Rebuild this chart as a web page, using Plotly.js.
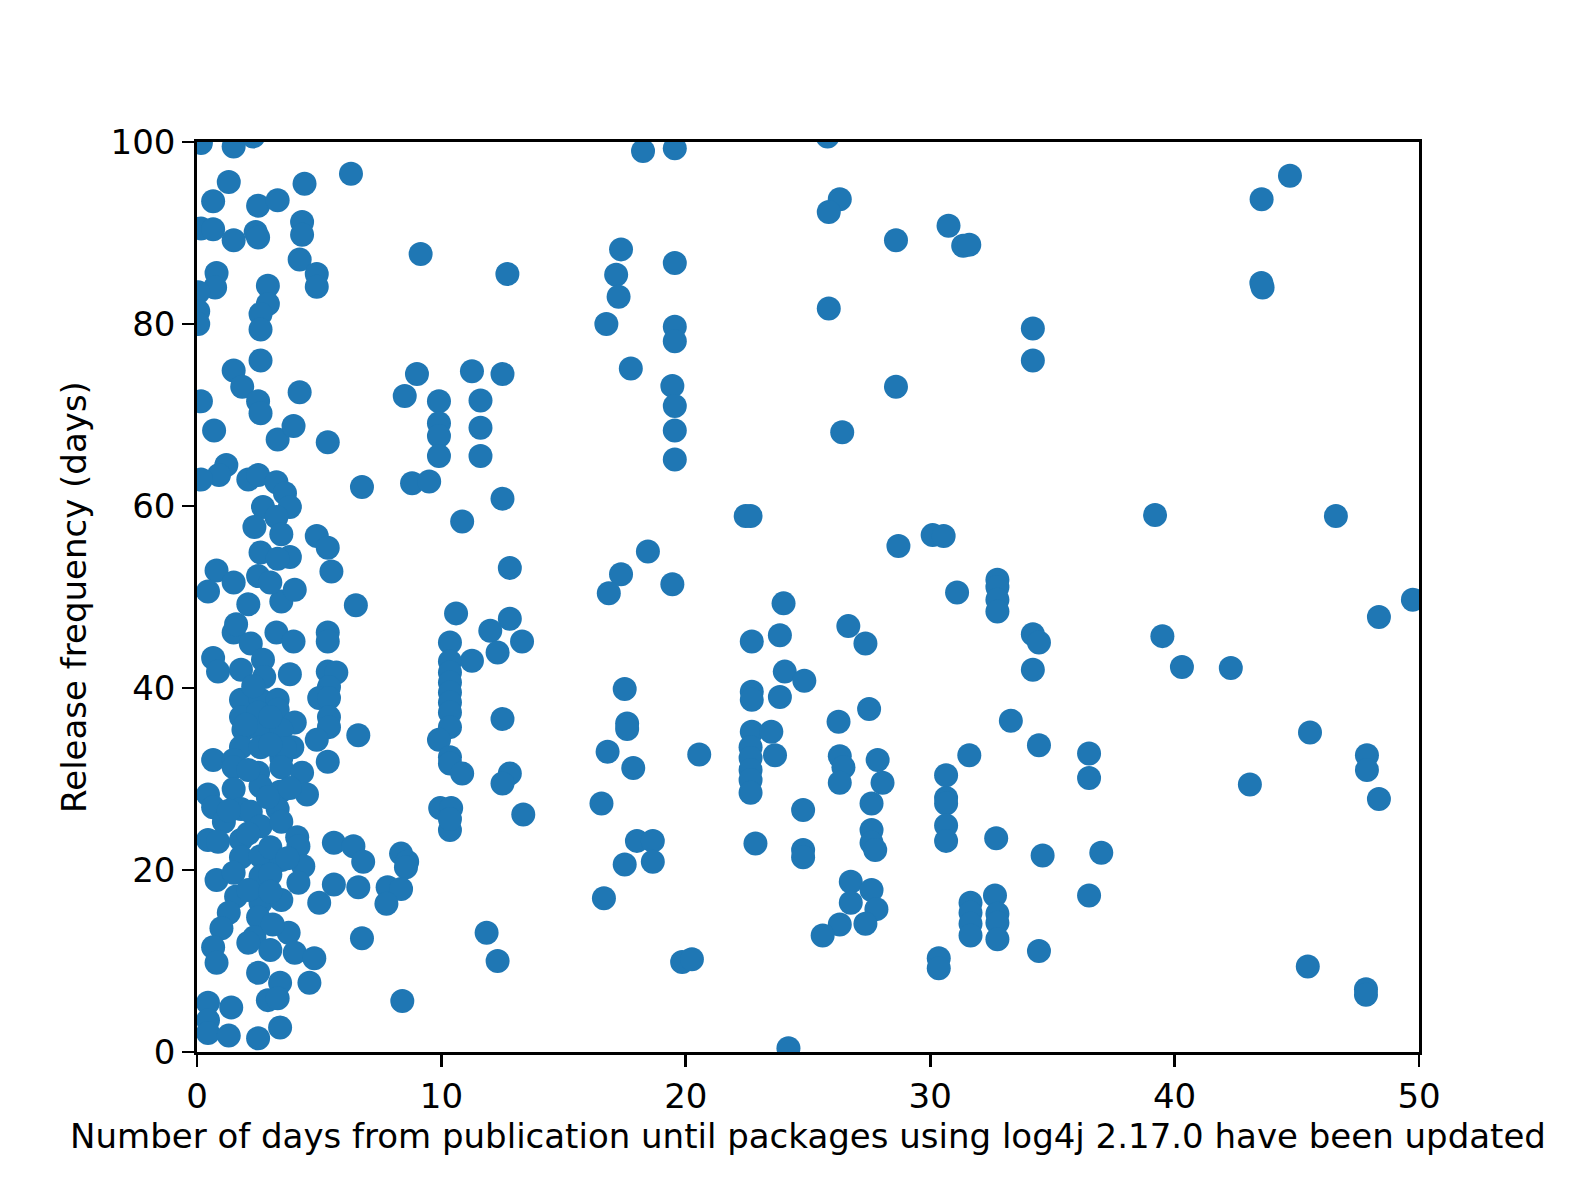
<!DOCTYPE html>
<html>
<head>
<meta charset="utf-8">
<script src="https://cdn.plot.ly/plotly-3.0.1.min.js"></script>
<style>
  html, body { margin: 0; padding: 0; background: #ffffff; }
  #chart { width: 1577px; height: 1183px; }
</style>
</head>
<body>
<div id="chart"></div>
<script>
// Number of days from publication until packages using log4j 2.17.0 have been updated
const daysToUpdate = [
  0.16, 1.5, 2.3, 6.3, 1.3, 4.4, 0.66, 2.5, 3.3, 0.16, 0.66, 1.5, 2.4, 2.5, 4.3, 4.3, 4.2, 4.9, 4.9, 0.8,
  0.74, 0.05, 0.05, 0.05, 2.9, 2.9, 2.6, 2.6, 2.6, 1.5, 1.85, 2.5, 2.6, 4.2, 0.16, 0.7, 3.3, 3.95, 5.35,
  1.2, 0.9, 0.16, 2.1, 2.5, 3.25, 3.6, 3.8, 2.7, 3.25, 2.35, 3.45, 6.75, 4.9, 5.35, 5.5, 2.6, 3.8, 3.3,
  0.8, 1.5, 2.5, 0.45, 2.1, 3.45, 4.0, 3.0, 6.5, 1.5, 1.6, 2.2, 3.25, 3.95, 5.35, 5.35, 0.66, 0.86, 1.8,
  2.7, 2.75, 3.8, 5.35, 5.7, 5.4, 5.0, 5.4, 1.8, 2.6, 3.3, 1.8, 3.3, 2.5, 4.0, 5.4, 5.4, 1.9, 2.6, 3.45,
  4.9, 6.6, 1.8, 2.6, 3.9, 0.66, 1.5, 3.45, 5.35,
  3.6, 1.5, 2.5, 3.45, 4.3, 0.45, 4.5, 1.5, 2.6, 3.4, 0.66, 1.8, 3.3, 2.2, 1.1, 2.6, 3.45, 0.45, 0.86,
  1.8, 4.1, 4.15, 5.6, 6.4, 6.8, 1.8, 2.6, 3.45, 4.35, 0.8, 1.5, 2.6, 4.15, 5.6, 6.6, 1.6, 2.6, 3.45,
  5.0, 1.3, 2.5, 1.0, 2.35, 3.75, 6.75, 0.66, 3.0, 4.0, 4.8, 0.8, 2.5, 3.4, 4.6, 2.9, 3.3, 0.45, 1.4,
  0.45, 0.45, 1.3, 2.5, 3.4,
  2.1, 3.0, 2.1, 3.0, 3.0, 2.1, 3.1, 2.1, 3.0, 3.7, 2.9, 1.3, 3.8, 2.0, 3.0, 2.3,
  9.0, 8.5, 11.25, 12.5, 9.9, 11.6, 9.9, 9.9, 11.6, 9.9, 11.6, 8.8, 9.5, 12.5, 10.85, 12.8, 10.6, 12.8,
  12.0, 13.3, 10.35, 12.3, 11.25, 10.35, 10.35, 10.35, 10.35, 10.35, 10.35, 10.35, 9.9, 10.35, 10.35,
  10.85, 12.5, 12.8, 12.5, 13.35, 9.95, 10.4, 10.35,
  10.35, 8.35, 8.6, 8.55, 7.8, 8.35, 7.75, 11.85, 12.3, 8.4, 9.15, 12.7,
  18.25, 19.55, 17.35, 19.55, 17.15, 17.25, 16.75, 19.55, 19.55, 17.75, 19.45, 19.55, 19.55, 19.55,
  18.45, 17.35, 16.85, 19.45,
  17.5, 17.6, 17.6, 16.8, 17.85, 20.55, 16.55, 18.0, 18.65, 17.5, 18.65, 16.65, 19.85, 20.25,
  22.45, 22.65, 28.7, 24.0, 26.65, 27.35, 22.7, 23.85, 24.05, 24.85, 22.7, 22.7, 23.85, 26.25, 27.5,
  22.7, 23.5, 23.65, 22.65, 22.65, 22.65, 22.65, 22.65, 26.3, 26.45, 26.3, 27.85, 28.05, 27.6, 27.6,
  27.6, 27.75, 24.8, 22.85, 24.8, 24.8, 26.75, 27.6, 26.75, 27.8, 27.35, 26.3, 25.6, 24.2,
  30.1, 30.55, 31.1, 32.75, 32.75, 32.75, 32.75, 34.2, 34.45, 34.2, 33.3, 34.45, 36.5, 36.5, 31.6,
  30.65, 30.65, 30.65, 30.65, 30.65, 32.7, 34.6, 37.0, 36.5, 31.65, 31.65, 31.65, 31.65, 32.65, 32.75,
  32.75, 32.75, 34.45, 30.35, 30.35,
  25.8, 26.3, 25.85, 28.6, 30.75, 31.35, 31.6, 25.85, 34.2, 34.2, 28.6, 26.4,
  44.72, 43.56, 43.55, 43.6, 39.2, 46.6, 49.75, 48.36, 39.5, 40.3, 42.3, 45.54, 47.87, 47.87, 48.36,
  43.08, 45.45, 47.83, 47.83
];

// Release frequency (days)
const releaseFrequency = [
  99.9, 99.5, 100.6, 96.5, 95.6, 95.4, 93.5, 93.0, 93.6, 90.5, 90.4, 89.2, 90.1, 89.5, 91.2, 89.8, 87.1, 85.5, 84.1, 85.6,
  84.0, 83.5, 81.4, 80.0, 84.2, 82.2, 81.1, 79.4, 76.0, 74.9, 73.1, 71.5, 70.2, 72.5, 71.5, 68.3, 67.3, 68.8, 67.0,
  64.5, 63.4, 62.9, 62.9, 63.4, 62.6, 61.4, 59.9, 59.9, 58.8, 57.7, 56.9, 62.1, 56.7, 55.4, 52.8, 54.9, 54.4, 54.2,
  52.9, 51.6, 52.3, 50.6, 49.2, 49.5, 50.8, 51.6, 49.1, 46.1, 47.0, 44.9, 46.1, 45.1, 46.1, 45.1, 43.3, 41.8, 42.0,
  43.1, 41.2, 41.5, 41.8, 41.7, 40.1, 38.9, 38.9, 38.7, 38.7, 38.7, 36.8, 37.6, 37.3, 36.2, 36.8, 35.7, 35.4, 35.4, 35.4,
  34.3, 34.8, 33.5, 33.5, 33.5, 32.1, 32.1, 32.3, 31.9,
  33.4, 31.3, 30.7, 31.3, 30.7, 28.3, 28.3, 28.9, 29.2, 28.6, 26.9, 26.7, 26.7, 26.4, 25.3, 24.8, 25.3, 23.3, 23.1,
  23.3, 23.6, 22.6, 23.0, 22.6, 20.9, 21.4, 21.5, 21.1, 20.4, 18.9, 19.7, 19.3, 18.6, 18.4, 18.1, 17.1, 16.4, 16.7,
  16.4, 15.3, 14.8, 13.6, 12.6, 13.1, 12.5, 11.5, 11.2, 10.9, 10.3, 9.8, 8.7, 7.6, 7.6, 5.7, 5.9, 5.4, 4.9,
  3.5, 2.1, 1.8, 1.5, 2.7,
  31.0, 33.8, 24.0, 22.5, 19.5, 17.8, 14.0, 12.0, 17.6, 21.3, 28.0, 26.5, 29.0, 36.0, 36.8, 40.2,
  74.5, 72.1, 74.8, 74.5, 71.5, 71.6, 69.1, 67.7, 68.6, 65.5, 65.5, 62.5, 62.7, 60.8, 58.3, 53.2, 48.2, 47.6,
  46.3, 45.1, 45.0, 43.9, 43.0, 42.9, 41.7, 40.6, 39.5, 38.4, 37.3, 35.7, 34.3, 32.4, 31.7,
  30.6, 36.6, 30.6, 29.5, 26.1, 26.8, 26.8, 24.4,
  25.6, 21.8, 20.9, 20.3, 18.1, 17.9, 16.3, 13.1, 10.0, 5.6, 87.7, 85.5,
  99.0, 99.3, 88.2, 86.7, 85.4, 83.0, 80.0, 79.7, 78.1, 75.1, 73.2, 71.0, 68.3, 65.1,
  55.0, 52.5, 50.4, 51.4,
  39.9, 36.1, 35.5, 33.0, 31.2, 32.7, 27.3, 23.2, 23.2, 20.6, 20.9, 16.9, 9.9, 10.2,
  58.9, 58.9, 55.6, 49.3, 46.8, 44.9, 45.1, 45.8, 41.8, 40.8, 39.6, 38.7, 39.0, 36.3, 37.7,
  35.2, 35.2, 32.6, 33.5, 32.3, 31.0, 29.9, 28.5, 32.5, 31.3, 29.6, 32.1, 29.6, 27.3, 24.4,
  23.0, 22.2, 26.6, 22.9, 22.2, 21.4, 18.7, 17.8, 16.4, 15.7, 14.1, 14.0, 12.8, 0.4,
  56.8, 56.7, 50.5, 51.9, 51.1, 49.7, 48.4, 45.9, 45.0, 42.0, 36.4, 33.7, 32.8, 30.1, 32.6,
  30.4, 27.9, 27.3, 24.9, 23.2, 23.5, 21.6, 21.9, 17.2, 16.4, 15.3, 14.1, 12.8, 17.2, 15.2,
  14.2, 12.4, 11.1, 10.3, 9.2,
  100.6, 93.7, 92.3, 89.2, 90.8, 88.6, 88.7, 81.7, 79.5, 76.0, 73.1, 68.1,
  96.3, 93.7, 84.5, 84.0, 59.0, 58.9, 49.7, 47.8, 45.7, 42.3, 42.2, 35.1, 32.6, 31.0, 27.8,
  29.4, 9.4, 6.9, 6.3
];

const xTicks = [0, 10, 20, 30, 40, 50];
const yTicks = [0, 20, 40, 60, 80, 100];

const fontFamily = 'DejaVu Sans, sans-serif';

const trace = {
  type: 'scatter',
  mode: 'markers',
  x: daysToUpdate,
  y: releaseFrequency,
  marker: { color: '#1f77b4', size: 24, line: { width: 0 } },
  cliponaxis: true,
  hoverinfo: 'x+y'
};

const axisCommon = {
  showgrid: false,
  zeroline: false,
  showline: true,
  linecolor: '#000000',
  linewidth: 2.7,
  mirror: true,
  ticks: 'outside',
  ticklen: 12,
  tickwidth: 2.7,
  tickcolor: '#000000',
  tickfont: { family: fontFamily, size: 34, color: '#000000' }
};

const layout = {
  width: 1577,
  height: 1183,
  margin: { l: 197, r: 158, t: 142, b: 131, pad: 0 },
  paper_bgcolor: '#ffffff',
  plot_bgcolor: '#ffffff',
  showlegend: false,
  font: { family: fontFamily, size: 34, color: '#000000' },
  xaxis: Object.assign({}, axisCommon, {
    range: [0, 50],
    tickmode: 'array',
    tickvals: xTicks,
    ticktext: xTicks.map(String),
    title: { text: 'Number of days from publication until packages using log4j 2.17.0 have been updated',
             font: { family: fontFamily, size: 34, color: '#000000' }, standoff: 10 }
  }),
  yaxis: Object.assign({}, axisCommon, {
    range: [0, 100],
    tickmode: 'array',
    tickvals: yTicks,
    ticktext: yTicks.map(String),
    title: { text: 'Release frequency (days)',
             font: { family: fontFamily, size: 34, color: '#000000' }, standoff: 14 }
  })
};

Plotly.newPlot('chart', [trace], layout, { displayModeBar: false, staticPlot: true });
</script>
</body>
</html>
